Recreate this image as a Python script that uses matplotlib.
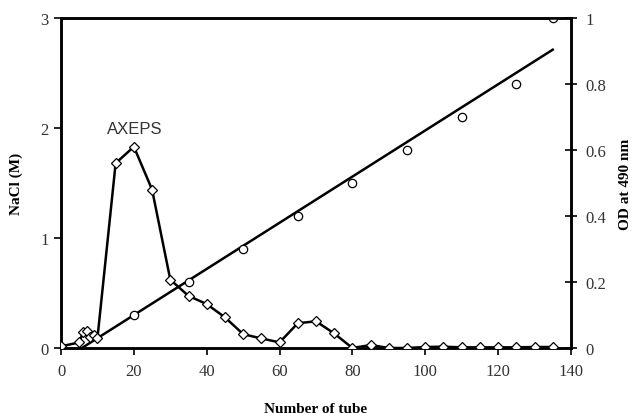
import numpy as np
from matplotlib import pyplot as plt

# NaCl gradient (left axis, open circles)
tube_nacl = [0, 20, 35, 50, 65, 80, 95, 110, 125, 135]
nacl = [0.0, 0.3, 0.6, 0.9, 1.2, 1.5, 1.8, 2.1, 2.4, 3.0]

# elution profile (right axis, diamonds)
tube_od = [0, 5, 6, 7, 8, 9, 10, 15, 20, 25, 30, 35, 40, 45, 50, 55, 60, 65, 70, 75,
           80, 85, 90, 95, 100, 105, 110, 115, 120, 125, 130, 135]
od = [0.005, 0.017, 0.047, 0.053, 0.032, 0.04, 0.03, 0.56, 0.61, 0.48, 0.207, 0.158,
      0.133, 0.093, 0.042, 0.029, 0.017, 0.075, 0.081, 0.044,
      0.0, 0.009, 0.0, 0.0, 0.003, 0.004, 0.002, 0.002, 0.002, 0.002, 0.003, 0.003]

serif = "Liberation Serif"

fig = plt.figure(figsize=(6.39, 4.14), dpi=100)
ax = fig.add_axes([0.0955, 0.157, 0.798, 0.797])
ax2 = ax.twinx()

# lineær trendlinje for NaCl
k, m = np.polyfit(tube_nacl, nacl, 1)
x0 = -m / k
xt = np.array([x0, 135])
ax.plot(xt, k * xt + m, color="black", lw=1.8, zorder=2)
ax.plot(tube_nacl, nacl, "o", ms=6, mfc="white", mec="black", mew=0.9, zorder=3)

ax2.plot(tube_od, od, "-D", color="black", lw=1.8, ms=5.5, mfc="white",
         mec="black", mew=0.9, zorder=3)

ax.set_xlim(0, 140)
ax.set_ylim(0, 3)
ax2.set_ylim(0, 1)
ax.set_xticks(range(0, 141, 20))
ax.set_yticks([0, 1, 2, 3])
ax2.set_yticks([0, 0.2, 0.4, 0.6, 0.8, 1])
ax2.set_yticklabels(["0", "0.2", "0.4", "0.6", "0.8", "1"])

for a in (ax, ax2):
    for s in a.spines.values():
        s.set_linewidth(1.8)
    for lab in a.get_xticklabels() + a.get_yticklabels():
        lab.set_fontfamily(serif)
        lab.set_fontsize(12)
        lab.set_color("#333333")

ax.tick_params(axis="both", direction="out", length=5, width=1.2, pad=6)
ax.tick_params(axis="y", pad=4)
ax2.tick_params(axis="y", direction="inout", length=9, width=1.2, pad=6)

ax.set_ylabel("NaCl (M)", fontfamily=serif, fontweight="bold", fontsize=11, labelpad=12)
ax2.set_ylabel("OD at 490 nm", fontfamily=serif, fontweight="bold", fontsize=11, labelpad=9)
ax.set_xlabel("Number of tube", fontfamily=serif, fontweight="bold", fontsize=11, labelpad=16)

ax.text(20.3, 2.0, "AXEPS", fontfamily="Liberation Sans", fontsize=12,
        color="#333333", ha="center", va="center")

plt.savefig("out.png", dpi=100)
